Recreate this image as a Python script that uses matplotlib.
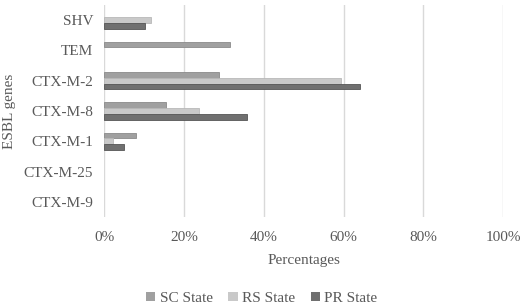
import numpy as np
import matplotlib
matplotlib.use("Agg")
import matplotlib.pyplot as plt
from matplotlib.ticker import PercentFormatter

# data (percent)
genes = ["CTX-M-9", "CTX-M-25", "CTX-M-1", "CTX-M-8", "CTX-M-2", "TEM", "SHV"]
sc_state = [0, 0, 7.8, 15.5, 28.7, 31.5, 0]
rs_state = [0, 0, 2.2, 23.7, 59.3, 0, 11.7]
pr_state = [0, 0, 5.0, 35.8, 64.0, 0, 10.2]
series_names = ["SC State", "RS State", "PR State"]

plt.rcParams['font.family'] = ['Liberation Serif', 'DejaVu Serif']

fig = plt.figure(figsize=(5.29, 3.05), dpi=100)
ax = fig.add_axes([0.1975, 0.2885, 0.7535, 0.6955])

y = np.arange(len(genes))
h = 0.19
styles = [('#a0a0a0', '#8a8a8a'), ('#c9c9c9', '#b8b8b8'), ('#707070', '#555555')]
for k, (vals, name) in enumerate(zip([sc_state, rs_state, pr_state], series_names)):
    fc, ec = styles[k]
    bars = ax.barh(y + h * (1 - k), vals, height=h, color=fc, edgecolor=ec,
                   linewidth=0.6, label=name)
    # no outline on empty bars
    for b, v in zip(bars, vals):
        if v == 0:
            b.set_linewidth(0)

ax.set_xlim(0, 100)
ax.set_ylim(-0.5, len(genes) - 0.5)
ax.set_xticks(np.arange(0, 101, 20))
ax.xaxis.set_major_formatter(PercentFormatter(decimals=0))
ax.set_yticks(y)
ax.set_yticklabels(genes)
ax.grid(axis='x', color='#d9d9d9', linewidth=1)
ax.set_axisbelow(True)
for s in ax.spines.values():
    s.set_visible(False)
ax.tick_params(length=0, labelsize=11, colors='#595959', pad=8)
ax.tick_params(axis='x', pad=10)

ax.set_xlabel("Percentages", fontsize=11, color='#595959', labelpad=7)
ax.set_ylabel("ESBL genes", fontsize=11, color='#595959', labelpad=6)

leg = fig.legend(loc='lower center', bbox_to_anchor=(0.495, -0.045), ncol=3, frameon=False,
                 fontsize=11, handlelength=0.6, handleheight=0.6, handletextpad=0.3,
                 columnspacing=1.0, labelcolor='#595959')

fig.savefig("out.png", dpi=100)
